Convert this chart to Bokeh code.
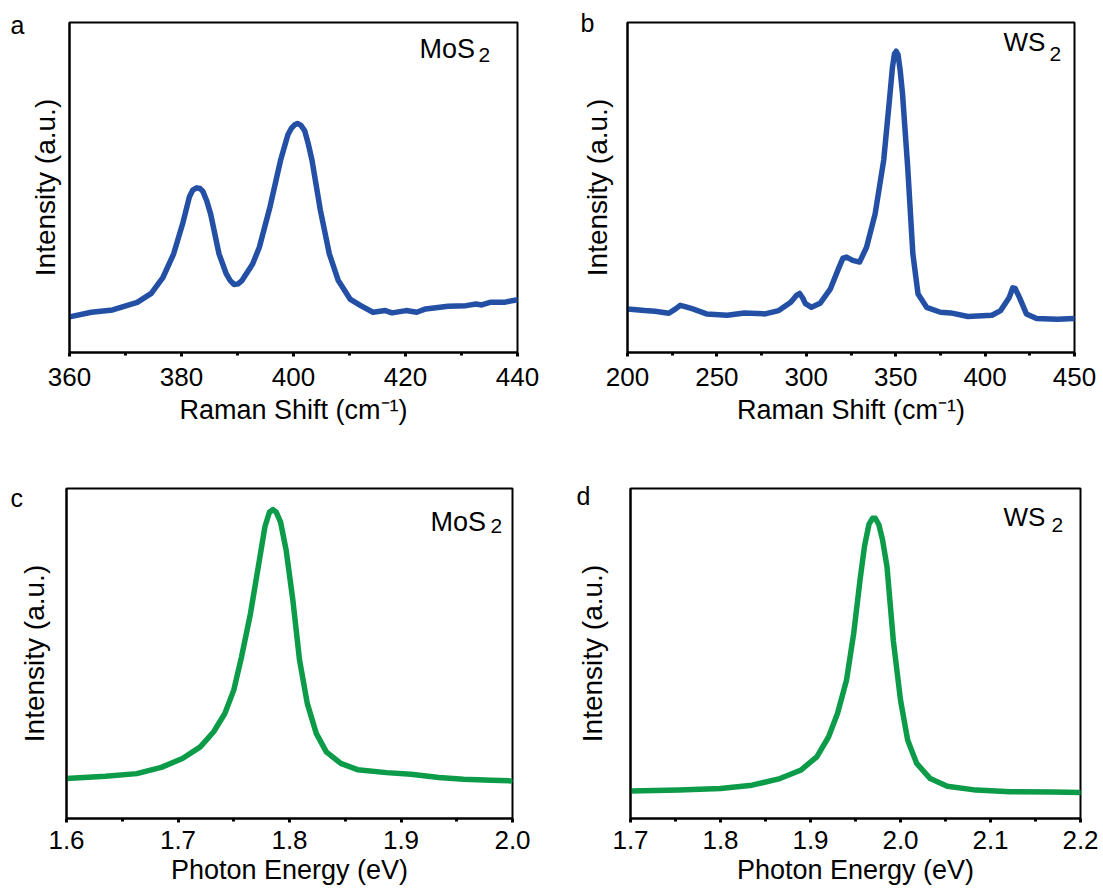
from bokeh.plotting import figure
from bokeh.layouts import column, row
from bokeh.models import Range1d, FixedTicker, NumeralTickFormatter, Label
from bokeh.embed import file_html
from bokeh.resources import INLINE

# ---------------- data ----------------
# (a) MoS2 Raman
a_shift = [360, 363.9, 367.7, 372.1, 374.6, 376.7, 378.6, 380.2, 381.4, 382.0, 382.7, 383.3,
           383.8, 384.5, 385.2, 386.7, 388.0, 388.7, 389.4, 390.1, 390.8, 392.7, 393.9, 395.8,
           397.7, 399.0, 399.6, 400.2, 400.7, 401.3, 402.0, 402.6, 403.3, 404.8, 406.4, 408.0,
           410.1, 412.0, 414.2, 416.4, 417.6, 420.1, 422.0, 423.6, 427.6, 430.8, 432.6, 433.6,
           435.1, 437.6, 440]
a_int = [10.8, 12.2, 12.9, 15.2, 17.9, 22.8, 29.9, 39.0, 47.1, 49.2, 49.9, 49.7,
         48.9, 46.0, 42.0, 29.9, 23.8, 21.8, 20.6, 20.8, 21.8, 26.8, 31.9, 44.1,
         58.3, 66.0, 67.9, 69.0, 69.4, 68.9, 67.2, 63.5, 58.3, 43.1, 29.9, 21.8,
         16.2, 14.2, 12.2, 12.7, 12.0, 12.7, 12.2, 13.2, 14.0, 14.2, 14.7, 14.4,
         15.2, 15.2, 16.0]

# (b) WS2 Raman
b_shift = [200, 209.6, 215.4, 223.1, 226.9, 229.5, 231.7, 236.5, 244.2, 255.8, 265.4, 276.9,
           284.6, 291.3, 294.5, 296.2, 298.0, 299.5, 302.9, 307.7, 313.5, 318.3, 320.5, 322.5,
           326.0, 329.8, 333.7, 338.5, 343.3, 346.5, 348.2, 349.3, 350.3, 351.3, 352.5, 353.8,
           356.7, 359.6, 362.5, 367.3, 375.0, 380.8, 390.4, 403.8, 408.7, 413.5, 415.5, 416.8,
           419.2, 423.1, 428.8, 440.4, 450]
b_int = [13.2, 12.7, 12.5, 11.9, 13.2, 14.3, 14.0, 13.2, 11.7, 11.3, 12.0, 11.7,
         12.7, 15.2, 17.3, 17.9, 16.5, 14.8, 13.7, 14.9, 19.3, 25.8, 28.6, 28.9,
         27.9, 27.4, 31.9, 42.0, 58.3, 76.5, 86.5, 90.5, 91.3, 90.3, 85.5, 78.5,
         56.2, 29.9, 17.7, 13.7, 12.2, 12.0, 10.9, 11.3, 12.7, 16.7, 19.6, 19.4,
         16.7, 11.7, 10.3, 10.1, 10.3]

# (c) MoS2 PL
c_energy = [1.600, 1.635, 1.663, 1.685, 1.704, 1.720, 1.732, 1.742, 1.750, 1.757, 1.765,
            1.773, 1.778, 1.782, 1.785, 1.788, 1.792, 1.797, 1.803, 1.809, 1.816, 1.824,
            1.833, 1.846, 1.861, 1.887, 1.909, 1.934, 1.956, 1.981, 1.998]
c_int = [12.1, 12.8, 13.6, 15.5, 18.2, 21.7, 26.3, 31.8, 38.9, 49.0, 62.1,
         78.3, 88.5, 92.8, 93.6, 92.9, 89.8, 81.3, 66.2, 48.0, 34.8, 25.8,
         20.2, 16.7, 14.8, 13.9, 13.4, 12.4, 11.9, 11.6, 11.4]

# (d) WS2 PL
d_energy = [1.700, 1.754, 1.800, 1.835, 1.866, 1.889, 1.907, 1.920, 1.930, 1.940, 1.948,
            1.955, 1.960, 1.965, 1.969, 1.972, 1.976, 1.980, 1.985, 1.992, 2.000, 2.008,
            2.018, 2.033, 2.052, 2.084, 2.122, 2.169, 2.200]
d_int = [8.3, 8.6, 9.1, 10.1, 12.1, 14.6, 18.7, 24.7, 31.8, 41.9, 56.1,
         72.2, 82.5, 89.2, 91.0, 91.0, 89.0, 84.5, 76.3, 54.0, 35.9, 23.7,
         16.7, 12.1, 9.8, 8.6, 8.1, 8.0, 7.9]

# tick values
a_ticks = [360, 380, 400, 420, 440]
a_minor = [370, 390, 410, 430]
b_ticks = [200, 250, 300, 350, 400, 450]
b_minor = [225, 275, 325, 375, 425]
c_ticks = [1.6, 1.7, 1.8, 1.9, 2.0]
c_minor = [1.65, 1.75, 1.85, 1.95]
d_ticks = [1.7, 1.8, 1.9, 2.0, 2.1, 2.2]
d_minor = [1.75, 1.85, 1.95, 2.05, 2.15]

raman_label = "Raman Shift (cm\u207b\u00b9)"
pl_label = "Photon Energy (eV)"
y_label = "Intensity (a.u.)"

FONT = "Liberation Sans"
BLUE = "#2350a5"
GREEN = "#0c9b48"


def panel(xs, ys, xr, ticks, minor, fmt, xlabel, color, width, height, borders,
          letter, letter_pos, name, name_pos, sub_pos, name_size, standoffs, y_standoff):
    left, right, top, bottom = borders
    p = figure(width=width, height=height, x_range=Range1d(*xr), y_range=Range1d(0, 100),
               output_backend="svg", toolbar_location=None,
               min_border_left=left, min_border_right=right,
               min_border_top=top, min_border_bottom=bottom)
    p.grid.visible = False
    p.outline_line_color = "black"
    p.outline_line_width = 2
    p.outline_line_alpha = 1
    p.background_fill_color = "white"
    p.border_fill_color = "white"

    xa = p.xaxis[0]
    xa.ticker = FixedTicker(ticks=ticks, minor_ticks=minor)
    xa.formatter = NumeralTickFormatter(format=fmt)
    xa.axis_label = xlabel
    xa.axis_label_text_font = FONT
    xa.axis_label_text_font_size = "27px"
    xa.axis_label_text_font_style = "normal"
    xa.axis_label_text_color = "black"
    xa.major_label_text_font = FONT
    xa.major_label_text_font_size = "26px"
    xa.major_label_text_color = "black"
    xa.axis_line_color = "black"
    xa.axis_line_width = 2
    xa.major_tick_line_color = "black"
    xa.major_tick_line_width = 3
    xa.major_tick_in = 0
    xa.major_tick_out = 4
    xa.minor_tick_line_color = "black"
    xa.minor_tick_line_width = 3
    xa.minor_tick_in = 0
    xa.minor_tick_out = 3
    xa.major_label_standoff = standoffs[0]
    xa.axis_label_standoff = standoffs[1]

    ya = p.yaxis[0]
    ya.ticker = FixedTicker(ticks=[])
    ya.axis_label = y_label
    ya.axis_label_text_font = FONT
    ya.axis_label_text_font_size = "28px"
    ya.axis_label_text_font_style = "normal"
    ya.axis_label_text_color = "black"
    ya.axis_line_color = "black"
    ya.axis_line_width = 2
    ya.major_tick_line_color = None
    ya.minor_tick_line_color = None
    ya.major_label_standoff = 0
    ya.axis_label_standoff = y_standoff

    p.line(xs, ys, line_width=5.5, line_color=color, line_join="round", line_cap="round")

    fh = height - top - bottom  # frame height
    # panel letter lives in the left side panel (not clipped by the frame)
    p.add_layout(Label(x=letter_pos[0], y=fh - letter_pos[1], x_units="screen", y_units="screen",
                       text=letter, text_font=FONT, text_font_size="25px",
                       text_color="black", text_baseline="alphabetic", text_align="left"), "left")
    p.add_layout(Label(x=name_pos[0], y=fh - name_pos[1], x_units="screen", y_units="screen",
                       text=name, text_font=FONT, text_font_size=name_size,
                       text_color="black", text_baseline="alphabetic", text_align="left"))
    p.add_layout(Label(x=sub_pos[0], y=fh - sub_pos[1], x_units="screen", y_units="screen",
                       text="2", text_font=FONT, text_font_size="21px",
                       text_color="black", text_baseline="alphabetic", text_align="left"))
    return p


H1, H2 = 432, 456
pa = panel(a_shift, a_int, (360, 440), a_ticks, a_minor, "0", raman_label, BLUE,
           564, H1, (69, 47, 22, 80), "a", (-2, 2), "MoS", (350, 26), (409, 32), "27px", (11, 6), 9)
pb = panel(b_shift, b_int, (200, 450), b_ticks, b_minor, "0", raman_label, BLUE,
           539, H1, (61, 29, 22, 80), "b", (16, 0), "WS", (376, 19), (422, 31), "26px", (11, 6), 15)
pc = panel(c_energy, c_int, (1.6, 2.0), c_ticks, c_minor, "0.0", pl_label, GREEN,
           559, H2, (66, 47, 56, 70), "c", (8, 9), "MoS", (364, 33), (424, 37), "27px", (8, 3), 17)
pd = panel(d_energy, d_int, (1.7, 2.2), d_ticks, d_minor, "0.0", pl_label, GREEN,
           544, H2, (69, 23, 56, 70), "d", (17, 7), "WS", (373, 28), (421, 36), "26px", (8, 3), 23)

layout = column(row(pa, pb), row(pc, pd))

open("out.html", "w").write(file_html(layout, INLINE, "Raman and PL spectra"))
